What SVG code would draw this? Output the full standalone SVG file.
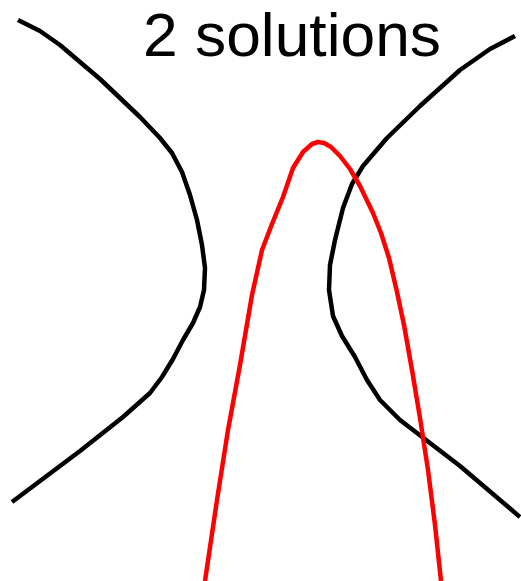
<svg xmlns="http://www.w3.org/2000/svg" width="521" height="581" viewBox="0 0 521 581">
<style>
.c{fill:none;stroke-width:4.5;stroke-linejoin:round;stroke-linecap:butt}
.k{stroke:#000}
.r{stroke:#ff0000}
text{font-family:"Liberation Sans",Arial,sans-serif;font-size:62px;fill:#000}
</style>
<rect width="521" height="581" fill="#fff"/>
<text x="143" y="56" textLength="298" lengthAdjust="spacingAndGlyphs">2 solutions</text>
<g id="left-branch">
<polyline class="c k" points="18,20 40,31 60,45 100,79 140,117 160,138 172,153 182,172 190,195 197,220 202,245 205,268 204,290 200,307 193,323 183,340 173,359 162,377 150,393 123,417 80,451 12,502"/>
</g>
<g id="right-branch">
<polyline class="c k" points="515,36 490,49 460,70 420,106 387,138 363,166 352,184 343,208 335,240 330,265 329,290 333,316 342,336 355,357 367,380 380,400 400,420 460,466 520,517"/>
</g>
<g id="parabola">
<polyline class="c r" points="205,581 217,500 228,430 240,365 252,295 262,250 272,224 283,197 293,168 303,152 312,144 318,142 324,143 331,147 340,156 350,169 360,186 373,213 381,233 389,258 397,292 404,325 412,370 420,418 428,470 435,525 441,581"/>
</g>
</svg>
